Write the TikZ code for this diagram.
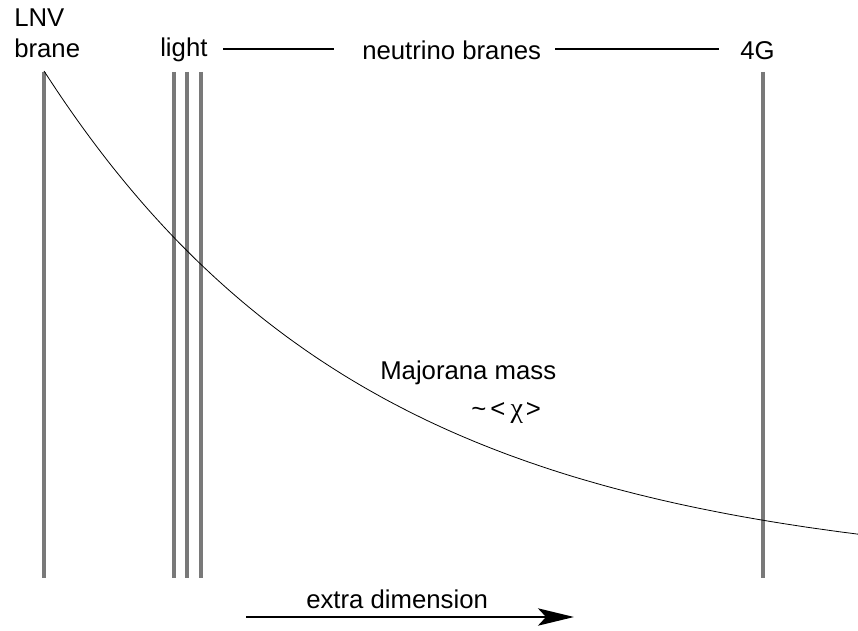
\documentclass[tikz,border=0pt]{standalone}
\usepackage{fontspec}
\setmainfont{Liberation Sans}
\newfontfamily\symfont{Liberation Serif}
\usetikzlibrary{arrows.meta}
\begin{document}
\begin{tikzpicture}[x=0.75pt,y=-0.75pt,
  brane/.style={draw=gray!95!black, line width=3pt},
  lbl/.style={font=\fontsize{19.3}{23}\selectfont, inner sep=0pt, anchor=west},
  rule/.style={line width=0.9pt}]
\useasboundingbox (0,0) rectangle (858,631);
% branes
\foreach \n/\x in {lnv/44, la/174, lb/187, lc/201, fg/763}{
  \coordinate (\n top) at (\x,72);
  \coordinate (\n bot) at (\x,578);
  \draw[brane] (\n top) -- (\n bot);
}
% labels
\node[lbl] (lnv) at (14,18) {LNV};
\node[lbl] (brane) at (14,48) {brane};
\node[lbl] (light) at (160,50) {light};
\node[lbl] (nb) at (362,50) {neutrino branes};
\node[lbl] (g4) at (740,51) {4G};
\coordinate (r1a) at (223,49);
\coordinate (r1b) at (334,49);
\coordinate (r2a) at (555,49);
\coordinate (r2b) at (719,49);
\draw[rule] (r1a) -- (r1b);
\draw[rule] (r2a) -- (r2b);
% curve
\draw[line width=0.6pt] plot[domain=44:858, samples=120, smooth] (\x,{575-504*exp(-(\x-44)/324)});
\node[lbl] (maj) at (380,373) {Majorana mass};
\node[lbl] (chi) at (471,413) {\textasciitilde\hspace{3pt}<\hspace{4pt}{\symfont\fontsize{21}{23}\selectfont χ}\hspace{2pt}>};
% arrow
\node[lbl] (ed) at (306,599) {extra dimension};
\coordinate (a0) at (246,617);
\coordinate (a1) at (574,617);
\draw[line width=1.5pt, -{Stealth[length=27pt,width=13pt,inset=6pt]}] (a0) -- (a1);
\end{tikzpicture}
\end{document}
